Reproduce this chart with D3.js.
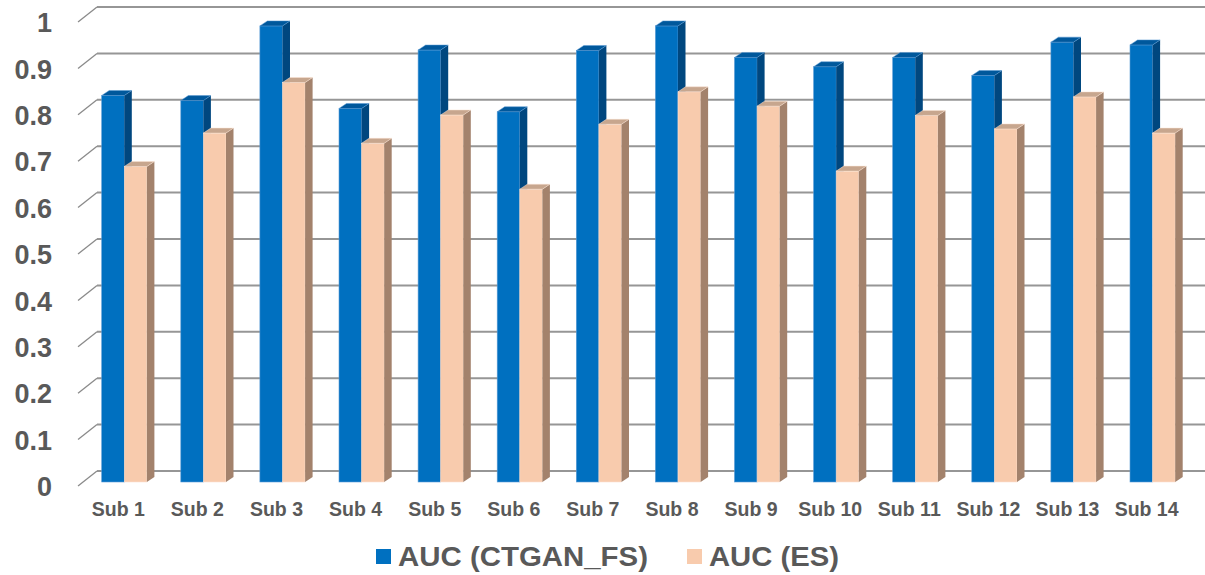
<!DOCTYPE html>
<html>
<head>
<meta charset="utf-8">
<script src="https://cdn.jsdelivr.net/npm/d3@7"></script>
<style>
  body { margin: 0; background: #fff; }
  text { font-family: "Liberation Sans", Arial, sans-serif; font-weight: bold; fill: #595959; }
</style>
</head>
<body>
<script>
let categories = ["Sub 1","Sub 2","Sub 3","Sub 4","Sub 5","Sub 6","Sub 7","Sub 8","Sub 9","Sub 10","Sub 11","Sub 12","Sub 13","Sub 14"]
let ctganFs = [0.833, 0.822, 0.983, 0.805, 0.931, 0.798, 0.930, 0.983, 0.915, 0.895, 0.915, 0.876, 0.948, 0.942]
let es = [0.680, 0.752, 0.861, 0.730, 0.791, 0.631, 0.771, 0.841, 0.810, 0.670, 0.790, 0.761, 0.830, 0.752]
let seriesNames = ["AUC (CTGAN_FS)", "AUC (ES)"]
let yTicks = [0, 0.1, 0.2, 0.3, 0.4, 0.5, 0.6, 0.7, 0.8, 0.9, 1]

let width = 1205, height = 575
let depthX = 19, depthY = 15   // wall depth
let barDX = 7.5, barDY = 5     // bar depth

let colors = {
  "AUC (CTGAN_FS)": {front: "#0070c0", side: "#00477f", top: "#00589c", edge: "#5a9bd5"},
  "AUC (ES)": {front: "#f8cbad", side: "#a3826c", top: "#c7a68e", edge: "#fbe2d2"}
}

let data = categories.map((c, i) => ({cat: c, values: [
  {key: seriesNames[0], v: ctganFs[i]},
  {key: seriesNames[1], v: es[i]}
]}))

let x = d3.scaleBand().domain(categories).range([101.7, 1175.2]).paddingInner(0.4286).paddingOuter(0)
let xs = d3.scaleBand().domain(seriesNames).range([0, x.bandwidth()])
let yBack = d3.scaleLinear().domain([0, 1]).range([471, 7])
let yFront = d3.scaleLinear().domain([0, 1]).range([471 + depthY, 7 + depthY])
let yBar = d3.scaleLinear().domain([0, 1]).range([482, 18])

let svg = d3.select('body').append('svg').attr('width', width).attr('height', height)

// back wall gridlines
let grid = svg.append('g')
grid.selectAll('line.h').data(yTicks).enter().append('line')
  .attr('x1', 78 + depthX).attr('x2', width)
  .attr('y1', d => yBack(d)).attr('y2', d => yBack(d))
  .attr('stroke', '#969696').attr('stroke-width', 2)
grid.selectAll('line.d').data(yTicks).enter().append('line')
  .attr('x1', 78).attr('y1', d => yFront(d))
  .attr('x2', 78 + depthX).attr('y2', d => yBack(d))
  .attr('stroke', '#8a8a8a').attr('stroke-width', 1.3)

// y axis labels (front plane)
svg.append('g')
  .attr('transform', 'translate(52,0)')
  .call(d3.axisLeft(yFront).tickValues(yTicks).tickSize(0).tickPadding(0).tickFormat(d3.format('.1~f')))
  .call(g => g.select('.domain').remove())
  .selectAll('text')
  .style('font-size', '27px').style('font-weight', 'bold')
  .style('font-family', '"Liberation Sans", Arial, sans-serif').attr('fill', '#595959')
  .attr('dy', '0.36em')

// bars
let groups = svg.selectAll('g.cat').data(data).enter().append('g')
  .attr('class', 'cat')
  .attr('transform', d => 'translate(' + x(d.cat) + ',0)')

let bars = groups.selectAll('g.bar').data(d => d.values).enter().append('g')

bars.append('rect')
  .attr('x', d => xs(d.key))
  .attr('y', d => yBar(d.v))
  .attr('width', xs.bandwidth())
  .attr('height', d => yBar(0) - yBar(d.v))
  .attr('fill', d => colors[d.key].front)
  .attr('stroke', d => colors[d.key].edge).attr('stroke-width', 0.6)

bars.append('path')
  .attr('d', d => {
    let x1 = xs(d.key) + xs.bandwidth(), yt = yBar(d.v), yb = yBar(0)
    return 'M' + x1 + ',' + yt + 'L' + (x1 + barDX) + ',' + (yt - barDY) +
      'L' + (x1 + barDX) + ',' + (yb - barDY) + 'L' + x1 + ',' + yb + 'Z'
  })
  .attr('fill', d => colors[d.key].side)

bars.append('path')
  .attr('d', d => {
    let x0 = xs(d.key), x1 = x0 + xs.bandwidth(), yt = yBar(d.v)
    return 'M' + x0 + ',' + yt + 'L' + (x0 + barDX) + ',' + (yt - barDY) +
      'L' + (x1 + barDX) + ',' + (yt - barDY) + 'L' + x1 + ',' + yt + 'Z'
  })
  .attr('fill', d => colors[d.key].top)
  .attr('stroke', d => colors[d.key].edge).attr('stroke-width', 0.5)

// category labels
svg.append('g').selectAll('text').data(categories).enter().append('text')
  .attr('x', d => x(d) + x.bandwidth() / 2 - 6)
  .attr('y', 516)
  .attr('text-anchor', 'middle')
  .style('font-size', '19.5px')
  .text(d => d)

// legend
let legendX = [376, 687]
let legendW = [250, 130]
let legend = svg.append('g').selectAll('g').data(seriesNames).enter().append('g')
  .attr('transform', (d, i) => 'translate(' + legendX[i] + ',0)')
legend.append('rect')
  .attr('x', 0).attr('y', 549).attr('width', 15).attr('height', 15)
  .attr('fill', d => colors[d].front)
legend.append('text')
  .attr('x', 22).attr('y', 565.5)
  .attr('textLength', (d, i) => legendW[i])
  .attr('lengthAdjust', 'spacingAndGlyphs')
  .style('font-size', '28.5px')
  .text(d => d)
</script>
</body>
</html>
